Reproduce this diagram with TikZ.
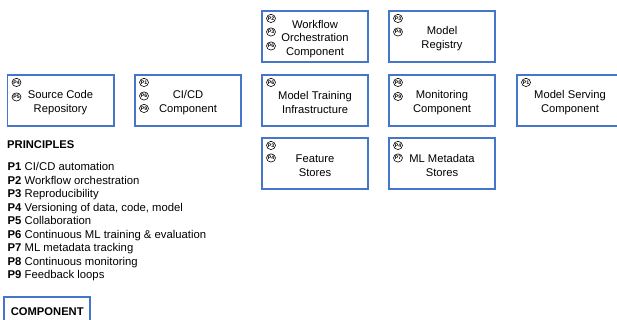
\documentclass[tikz,border=0pt]{standalone}
\usepackage{fontspec}
\setmainfont{Liberation Sans}
\usetikzlibrary{shapes.geometric}
\definecolor{boxblue}{RGB}{70,118,204}
\begin{document}
\begin{tikzpicture}[x=1pt,y=-1pt,
  comp/.style={draw=boxblue, line width=1.6pt, minimum width=106.4pt, minimum height=51.5pt, inner sep=0pt},
  ctext/.style={align=center, font=\fontsize{11.2}{13.5}\selectfont, inner sep=0pt},
  pc/.style={draw, ellipse, line width=0.6pt, minimum width=9pt, minimum height=8.2pt, inner sep=0pt, font=\fontsize{5.2}{5.2}\selectfont\bfseries},
  pl/.style={anchor=base west, inner sep=0pt, font=\fontsize{11.3}{13}\selectfont},
  hd/.style={anchor=base west, inner sep=0pt, font=\fontsize{11.2}{13}\selectfont\bfseries},
]
\clip (0,0) rectangle (617,320);
\fill[white] (0,0) rectangle (617,320);

% components
\node[comp] (src) at (60.5,100.5) {};
\node[ctext] (src-t) at ([shift={(0,2.2)}]src.center) {Source Code\\Repository};
\node[pc] (src-p4) at ([shift={(10,8.5)}]src.north west) {P4};
\node[pc] (src-p5) at ([shift={(10,23)}]src.north west) {P5};

\node[comp] (cicd) at (188,100.5) {};
\node[ctext] (cicd-t) at ([shift={(0,2.2)}]cicd.center) {CI/CD\\Component};
\node[pc] (cicd-p1) at ([shift={(10,8.5)}]cicd.north west) {P1};
\node[pc] (cicd-p6) at ([shift={(10,22)}]cicd.north west) {P6};
\node[pc] (cicd-p9) at ([shift={(10,34.5)}]cicd.north west) {P9};

\node[comp] (wf) at (315,36.5) {};
\node[ctext] (wf-t) at ([shift={(0,2.5)}]wf.center) {Workflow\\Orchestration\\Component};
\node[pc] (wf-p2) at ([shift={(10,8.5)}]wf.north west) {P2};
\node[pc] (wf-p3) at ([shift={(10,22)}]wf.north west) {P3};
\node[pc] (wf-p6) at ([shift={(10,36)}]wf.north west) {P6};

\node[comp] (mt) at (315,100.5) {};
\node[ctext] (mt-t) at ([shift={(0,2.2)}]mt.center) {Model Training\\Infrastructure};
\node[pc] (mt-p6) at ([shift={(10,8.5)}]mt.north west) {P6};

\node[comp] (fs) at (315,163.5) {};
\node[ctext] (fs-t) at ([shift={(0,2.2)}]fs.center) {Feature\\Stores};
\node[pc] (fs-p3) at ([shift={(10,8.5)}]fs.north west) {P3};
\node[pc] (fs-p4) at ([shift={(10,21)}]fs.north west) {P4};

\node[comp] (reg) at (442,36.5) {};
\node[ctext] (reg-t) at ([shift={(0,2.2)}]reg.center) {Model\\Registry};
\node[pc] (reg-p3) at ([shift={(10,8.5)}]reg.north west) {P3};
\node[pc] (reg-p4) at ([shift={(10,22)}]reg.north west) {P4};

\node[comp] (mon) at (442,100.5) {};
\node[ctext] (mon-t) at ([shift={(0,2.2)}]mon.center) {Monitoring\\Component};
\node[pc] (mon-p8) at ([shift={(10,8.5)}]mon.north west) {P8};
\node[pc] (mon-p9) at ([shift={(10,22.5)}]mon.north west) {P9};

\node[comp] (meta) at (442,163.5) {};
\node[ctext] (meta-t) at ([shift={(0,2.2)}]meta.center) {ML Metadata\\Stores};
\node[pc] (meta-p4) at ([shift={(10,8.5)}]meta.north west) {P4};
\node[pc] (meta-p7) at ([shift={(10,21)}]meta.north west) {P7};

\node[comp] (serve) at (570,100.5) {};
\node[ctext] (serve-t) at ([shift={(0,2.2)}]serve.center) {Model Serving\\Component};
\node[pc] (serve-p1) at ([shift={(10,8.5)}]serve.north west) {P1};

% principles
\node[hd] (phead) at (7,149) {PRINCIPLES};
\node[pl] (pr1) at (7.5,171) {\textbf{P1} CI/CD automation};
\node[pl] (pr2) at (7.5,184.45) {\textbf{P2} Workflow orchestration};
\node[pl] (pr3) at (7.5,197.9) {\textbf{P3} Reproducibility};
\node[pl] (pr4) at (7.5,211.35) {\textbf{P4} Versioning of data, code, model};
\node[pl] (pr5) at (7.5,224.8) {\textbf{P5} Collaboration};
\node[pl] (pr6) at (7.5,238.25) {\textbf{P6} Continuous ML training \& evaluation};
\node[pl] (pr7) at (7.5,251.7) {\textbf{P7} ML metadata tracking};
\node[pl] (pr8) at (7.5,265.15) {\textbf{P8} Continuous monitoring};
\node[pl] (pr9) at (7.5,278.6) {\textbf{P9} Feedback loops};

% legend
\node[draw=boxblue, line width=1.6pt, minimum width=86pt, minimum height=30pt, inner sep=0pt, font=\fontsize{11.2}{13}\selectfont\bfseries] (legend) at (47.25,312) {COMPONENT};
\end{tikzpicture}
\end{document}
